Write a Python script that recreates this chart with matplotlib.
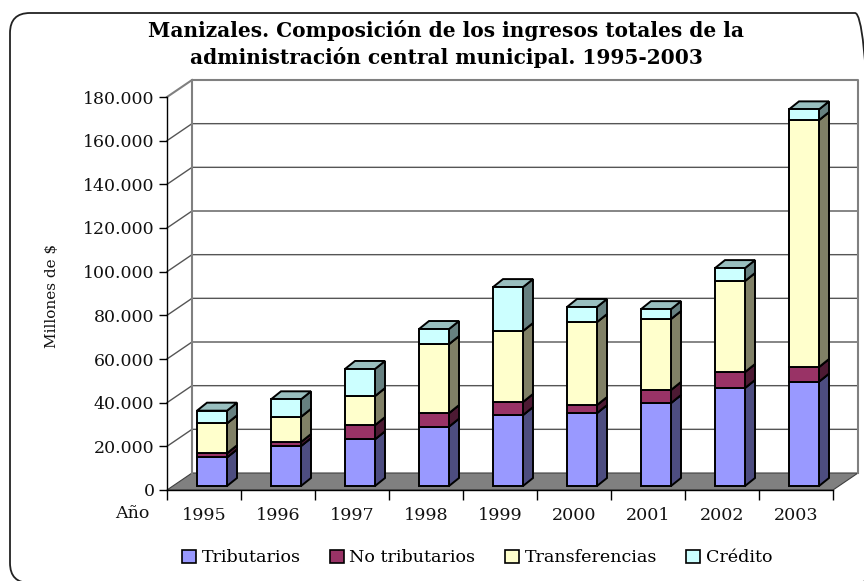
"""Manizales income composition, 3D-look stacked columns."""

import matplotlib

matplotlib.use("Agg")
import matplotlib.pyplot as plt
from matplotlib.patches import FancyBboxPatch, Patch, Polygon
from matplotlib.ticker import FuncFormatter

years = ["1995", "1996", "1997", "1998", "1999", "2000", "2001", "2002", "2003"]
tributarios = [13100, 18300, 21400, 27200, 32500, 33400, 38000, 44900, 47800]
no_tributarios = [1900, 1850, 6500, 6200, 6000, 3700, 6000, 7300, 6700]
transferencias = [13700, 11550, 13300, 31600, 32500, 38000, 32500, 41700, 113100]
credito = [5800, 8000, 12400, 6900, 20100, 6900, 4500, 5900, 4900]

series_names = ["Tributarios", "No tributarios", "Transferencias", "Crédito"]
front_colors = ["#9999FF", "#993366", "#FFFFCC", "#CCFFFF"]
side_colors = ["#4D4D80", "#4D1A33", "#808066", "#668080"]
top_colors = ["#7373BF", "#732650", "#BFBF99", "#99BFBF"]

W, H = 864, 581
LEFT, RIGHT, TOP, BOTTOM = 167, 833, 97, 490
FONT = "DejaVu Serif"

fig = plt.figure(figsize=(W / 100, H / 100), dpi=100)
fig.patch.set_facecolor("white")
ax = fig.add_axes(
    [LEFT / W, 1 - BOTTOM / H, (RIGHT - LEFT) / W, (BOTTOM - TOP) / H]
)
ax.patch.set_visible(False)
ax.set_xlim(0, len(years))
ax.set_ylim(0, 180000)

# pixel sizes turned into data units
px_x = len(years) / (RIGHT - LEFT)
px_y = 180000 / (BOTTOM - TOP)
wall_dx, wall_dy = 25 * px_x, 17 * px_y
bar_dx, bar_dy = 10 * px_x, 8 * px_y
bar_left, bar_width = 30 * px_x, 30 * px_x
bar_lift = 4 * px_y

# rounded frame, right and bottom edges run off the picture
frame = FancyBboxPatch(
    (30, 18),
    825,
    530,
    boxstyle="round,pad=20,rounding_size=20",
    transform=None,
    fc="none",
    ec="#222222",
    lw=1.3,
)
fig.add_artist(frame)

n = len(years)
ymax = 180000

# floor
ax.add_patch(
    Polygon(
        [(0, 0), (n, 0), (n + wall_dx, wall_dy), (wall_dx, wall_dy)],
        fc="#808080",
        ec="#404040",
        lw=0.8,
        clip_on=False,
        zorder=1,
    )
)

# gridlines on side wall and back wall
for level in range(20000, ymax, 20000):
    ax.plot(
        [0, wall_dx, n + wall_dx],
        [level, level + wall_dy, level + wall_dy],
        color="#555555",
        lw=1.0,
        clip_on=False,
        zorder=1,
    )
ax.plot([0, wall_dx], [ymax, ymax + wall_dy], color="#808080", lw=1.5, clip_on=False, zorder=1)
ax.plot(
    [wall_dx, wall_dx, n + wall_dx, n + wall_dx],
    [wall_dy, ymax + wall_dy, ymax + wall_dy, wall_dy],
    color="#808080",
    lw=1.5,
    clip_on=False,
    zorder=1,
)


def draw_segment(x0, y0, y1, index, zorder):
    x1 = x0 + bar_width
    style = dict(ec="black", lw=1.4, clip_on=False, zorder=zorder, joinstyle="miter")
    ax.add_patch(
        Polygon(
            [(x1, y0), (x1 + bar_dx, y0 + bar_dy), (x1 + bar_dx, y1 + bar_dy), (x1, y1)],
            fc=side_colors[index],
            **style,
        )
    )
    ax.add_patch(
        Polygon(
            [(x0, y1), (x1, y1), (x1 + bar_dx, y1 + bar_dy), (x0 + bar_dx, y1 + bar_dy)],
            fc=top_colors[index],
            **style,
        )
    )
    ax.add_patch(
        Polygon([(x0, y0), (x1, y0), (x1, y1), (x0, y1)], fc=front_colors[index], **style)
    )


for i in range(n):
    base = bar_lift
    stack = [tributarios[i], no_tributarios[i], transferencias[i], credito[i]]
    for s, value in enumerate(stack):
        draw_segment(i + bar_left, base, base + value, s, 3 + s)
        base += value

for side in ("top", "right"):
    ax.spines[side].set_visible(False)
for side in ("left", "bottom"):
    ax.spines[side].set_color("black")
    ax.spines[side].set_linewidth(1.0)
    ax.spines[side].set_zorder(2)

ax.set_yticks(range(0, ymax + 1, 20000))
ax.yaxis.set_major_formatter(
    FuncFormatter(lambda v, _: f"{int(v):,}".replace(",", "."))
)
ax.set_xticks(range(n + 1))
ax.set_xticklabels([])
ax.set_xticks([i + 0.5 for i in range(n)], minor=True)
ax.set_xticklabels(years, minor=True)
ax.tick_params(axis="x", which="minor", length=0, pad=12, labelsize=12.6)
ax.tick_params(axis="x", which="major", length=7, width=1.0)
ax.tick_params(axis="y", length=6, width=1.0, pad=3, labelsize=12.5)
for label in ax.get_xticklabels(minor=True) + ax.get_yticklabels():
    label.set_family(FONT)
    label.set_color("#111111")

fig.text(
    132 / W, 1 - 513 / H, "Año", family=FONT, fontsize=12.6, ha="center", va="center",
    color="#111111",
)
fig.text(
    52 / W, 1 - 296 / H, "Millones de $", family=FONT, fontsize=11, rotation=90,
    ha="center", va="center", color="#111111",
)
fig.text(
    446 / W,
    1 - 44 / H,
    "Manizales. Composición de los ingresos totales de la\n"
    "administración central municipal. 1995-2003",
    family=FONT,
    fontsize=14.5,
    fontweight="bold",
    ha="center",
    va="center",
    linespacing=1.3,
    color="black",
)

handles = [Patch(fc=c, ec="black", lw=1.2) for c in front_colors]
fig.legend(
    handles,
    series_names,
    ncol=4,
    loc="center",
    bbox_to_anchor=(477 / W, 1 - 558 / H),
    frameon=False,
    prop={"family": FONT, "size": 12.6},
    handlelength=0.8,
    handleheight=0.8,
    handletextpad=0.33,
    columnspacing=1.67,
)

fig.savefig("out.png", dpi=100)
